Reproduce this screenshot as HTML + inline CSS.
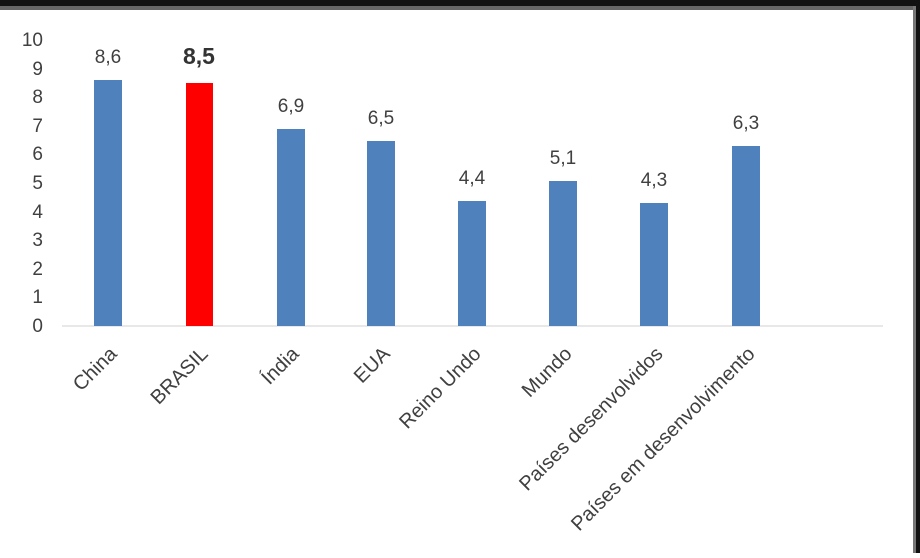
<!DOCTYPE html>
<html><head><style>
body{margin:0;width:920px;height:553px;overflow:hidden;background:#fff}
</style></head><body>
<svg width="920" height="553" xmlns="http://www.w3.org/2000/svg" font-family="Liberation Sans, sans-serif">
<rect x="0" y="0" width="920" height="553" fill="#fff"/>
<rect x="0" y="0" width="920" height="6" fill="#111"/>
<rect x="0" y="6" width="920" height="4" fill="#666"/>
<rect x="913" y="6" width="3" height="547" fill="#777"/>
<rect x="916" y="0" width="4" height="553" fill="#111"/>
<line x1="62" y1="326" x2="883" y2="326" stroke="#d0d0d0" stroke-width="1"/>
<g font-size="19" fill="#404040" text-anchor="end">
<text x="43" y="332">0</text><text x="43" y="303">1</text><text x="43" y="275">2</text><text x="43" y="246">3</text><text x="43" y="218">4</text><text x="43" y="189">5</text><text x="43" y="160">6</text><text x="43" y="132">7</text><text x="43" y="103">8</text><text x="43" y="75">9</text><text x="43" y="46">10</text>
</g>
<g fill="#4f81bd">
<rect x="94" y="80" width="28" height="246"/>
<rect x="186" y="83" width="27" height="243" fill="#ff0000"/>
<rect x="277" y="129" width="28" height="197"/>
<rect x="367" y="141" width="28" height="185"/>
<rect x="458" y="201" width="28" height="125"/>
<rect x="549" y="181" width="28" height="145"/>
<rect x="640" y="203" width="28" height="123"/>
<rect x="732" y="146" width="28" height="180"/>
</g>
<g font-size="19" fill="#404040" text-anchor="middle">
<text x="108" y="63">8,6</text>
<text x="199" y="64" font-size="23" font-weight="bold" fill="#333">8,5</text>
<text x="291" y="112">6,9</text>
<text x="381" y="124">6,5</text>
<text x="472" y="184">4,4</text>
<text x="563" y="164">5,1</text>
<text x="654" y="186">4,3</text>
<text x="746" y="129">6,3</text>
</g>
<g font-size="20" fill="#404040" text-anchor="end">
<text transform="translate(118,355) rotate(-45)">China</text>
<text transform="translate(209,355) rotate(-45)">BRASIL</text>
<text transform="translate(300,355) rotate(-45)">Índia</text>
<text transform="translate(391,355) rotate(-45)">EUA</text>
<text transform="translate(482,355) rotate(-45)">Reino Undo</text>
<text transform="translate(573,355) rotate(-45)">Mundo</text>
<text transform="translate(664,355) rotate(-45)">Países desenvolvidos</text>
<text transform="translate(756,355) rotate(-45)">Países em desenvolvimento</text>
</g>
</svg>
</body></html>
